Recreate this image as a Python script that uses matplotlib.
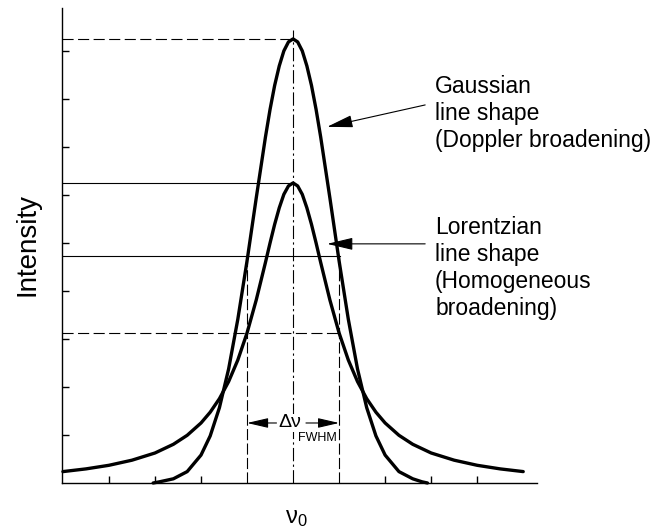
import matplotlib.pyplot as plt

plt.rcParams['font.family'] = ['Liberation Sans', 'DejaVu Sans']

# --- values (x in units of FWHM, centred on nu_0) ---
lor_x = [-2.5, -2.25, -2.0, -1.75, -1.5, -1.3, -1.15, -1.0, -0.9, -0.8, -0.7,
         -0.6, -0.5, -0.4, -0.3, -0.25, -0.2, -0.15, -0.1, -0.05, 0.0,
         0.05, 0.1, 0.15, 0.2, 0.25, 0.3, 0.4, 0.5, 0.6, 0.7, 0.8, 0.9,
         1.0, 1.15, 1.3, 1.5, 1.75, 2.0, 2.25, 2.5]
lor_y = [0.038, 0.047, 0.059, 0.076, 0.100, 0.129, 0.159, 0.200, 0.236, 0.281, 0.338,
         0.410, 0.500, 0.610, 0.735, 0.800, 0.862, 0.917, 0.962, 0.990, 1.000,
         0.990, 0.962, 0.917, 0.862, 0.800, 0.735, 0.610, 0.500, 0.410, 0.338, 0.281, 0.236,
         0.200, 0.159, 0.129, 0.100, 0.076, 0.059, 0.047, 0.038]

gau_x = [-1.52, -1.45, -1.3, -1.15, -1.0, -0.9, -0.8, -0.7, -0.6, -0.5, -0.4,
         -0.3, -0.25, -0.2, -0.15, -0.1, -0.05, 0.0,
         0.05, 0.1, 0.15, 0.2, 0.25, 0.3, 0.4, 0.5, 0.6, 0.7, 0.8, 0.9,
         1.0, 1.15, 1.3, 1.4, 1.46]
gau_y = [0.0, 0.004, 0.014, 0.038, 0.093, 0.157, 0.251, 0.380, 0.546, 0.740, 0.950,
         1.153, 1.245, 1.325, 1.390, 1.440, 1.470, 1.480,
         1.470, 1.440, 1.390, 1.325, 1.245, 1.153, 0.950, 0.740, 0.546, 0.380, 0.251, 0.157,
         0.093, 0.038, 0.014, 0.004, 0.0]

x_ticks = [-2.0, -1.5, -1.0, 1.0, 1.5, 2.0]
y_ticks = [0.16, 0.32, 0.48, 0.64, 0.80, 0.96, 1.12, 1.28, 1.44]

gau_label = 'Gaussian\nline shape\n(Doppler broadening)'
lor_label = 'Lorentzian\nline shape\n(Homogeneous\nbroadening)'

fig = plt.figure(figsize=(6.63, 5.31), dpi=100)
ax = fig.add_axes([0.0935, 0.0904, 0.7165, 0.8945])
x0, x1 = -2.51, 2.65
ax.set_xlim(x0, x1)
ax.set_ylim(0, 1.583)

# curves
ax.plot(lor_x, lor_y, color='black', lw=2.4, solid_capstyle='round', clip_on=False)
ax.plot(gau_x, gau_y, color='black', lw=2.4, solid_capstyle='round', clip_on=False)

g_peak = max(gau_y)
l_peak = max(lor_y)

# guide lines
thin = dict(color='black', lw=0.8)
ax.plot([x0, 0], [g_peak, g_peak], dashes=(10, 4), **thin)
ax.plot([x0, 0], [l_peak, l_peak], **thin)
ax.plot([x0, 0.51], [g_peak / 2 + 0.015, g_peak / 2 + 0.015], **thin)
ax.plot([x0, 0.5], [l_peak / 2, l_peak / 2], dashes=(10, 4), **thin)
ax.plot([0, 0], [0, 1.51], dashes=(12, 3, 2, 3), **thin)
ax.plot([-0.5, -0.5], [0, g_peak / 2], dashes=(10, 3), **thin)
ax.plot([0.5, 0.5], [0, g_peak / 2 + 0.015], dashes=(10, 3), **thin)

# FWHM marker
arr = dict(arrowstyle='-|>,head_length=1.6,head_width=0.38', color='black', lw=0.8,
           shrinkA=0, shrinkB=0)
small = dict(arrowstyle='-|>,head_length=1.3,head_width=0.3', color='black', lw=0.8,
             shrinkA=0, shrinkB=0)
ax.annotate('', xy=(-0.5, 0.2), xytext=(-0.18, 0.2), arrowprops=small)
ax.annotate('', xy=(0.5, 0.2), xytext=(0.14, 0.2), arrowprops=small)
ax.text(-0.03, 0.2, 'Δν', fontsize=14, ha='center', va='center',
        bbox=dict(facecolor='white', edgecolor='none', pad=0.5))
ax.text(0.26, 0.15, 'FWHM', fontsize=9, ha='center', va='center')

# labels with arrows
ax.annotate('', xy=(0.37, 1.187), xytext=(1.435, 1.26), arrowprops=arr)
ax.annotate('', xy=(0.37, 0.797), xytext=(1.435, 0.797), arrowprops=arr)
ax.text(1.543, 1.36, gau_label, fontsize=16.5, ha='left', va='top',
        linespacing=1.22, clip_on=False)
ax.text(1.543, 0.89, lor_label, fontsize=16.5, ha='left', va='top',
        linespacing=1.22, clip_on=False)

ax.text(0.03, -0.115, r'$\mathregular{\nu_0}$', fontsize=17, ha='center', va='center')
fig.text(0.041, 0.539, 'Intensity', fontsize=20, rotation=90, ha='center', va='center')

# axes
for s in ['top', 'right']:
    ax.spines[s].set_visible(False)
ax.spines['left'].set_linewidth(1.0)
ax.spines['bottom'].set_linewidth(1.0)
ax.set_xticks(x_ticks)
ax.set_yticks(y_ticks)
ax.tick_params(direction='in', length=5, width=1, labelbottom=False, labelleft=False)

fig.savefig('out.png', dpi=100)
